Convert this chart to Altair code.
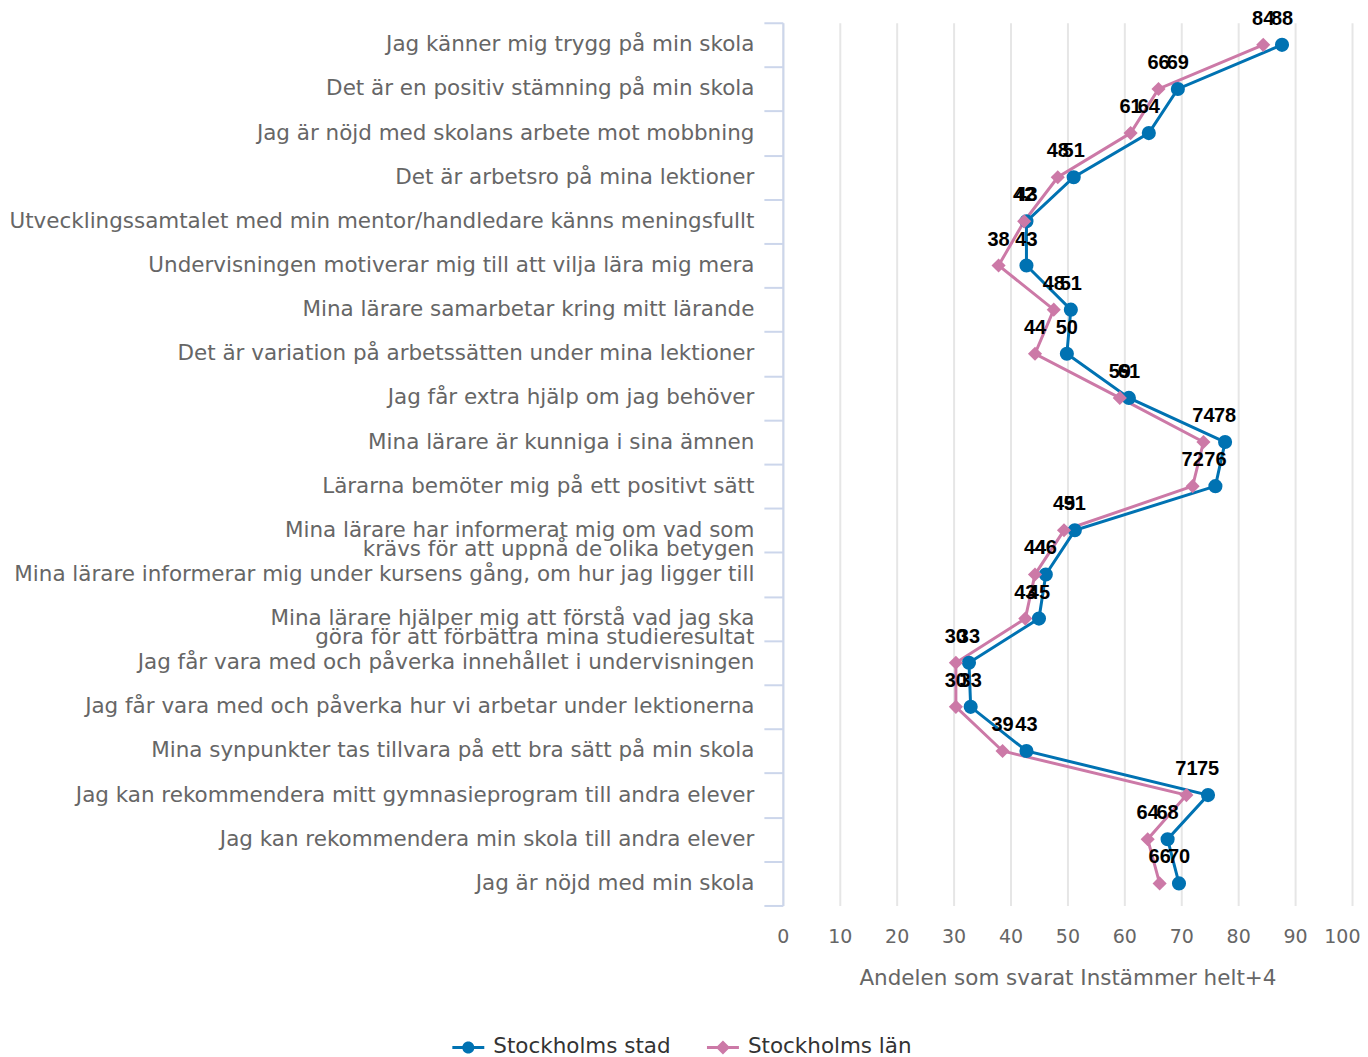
import altair as alt
import pandas as pd

questions = [
    "Jag känner mig trygg på min skola",
    "Det är en positiv stämning på min skola",
    "Jag är nöjd med skolans arbete mot mobbning",
    "Det är arbetsro på mina lektioner",
    "Utvecklingssamtalet med min mentor/handledare känns meningsfullt",
    "Undervisningen motiverar mig till att vilja lära mig mera",
    "Mina lärare samarbetar kring mitt lärande",
    "Det är variation på arbetssätten under mina lektioner",
    "Jag får extra hjälp om jag behöver",
    "Mina lärare är kunniga i sina ämnen",
    "Lärarna bemöter mig på ett positivt sätt",
    "Mina lärare har informerat mig om vad som\nkrävs för att uppnå de olika betygen",
    "Mina lärare informerar mig under kursens gång, om hur jag ligger till",
    "Mina lärare hjälper mig att förstå vad jag ska\ngöra för att förbättra mina studieresultat",
    "Jag får vara med och påverka innehållet i undervisningen",
    "Jag får vara med och påverka hur vi arbetar under lektionerna",
    "Mina synpunkter tas tillvara på ett bra sätt på min skola",
    "Jag kan rekommendera mitt gymnasieprogram till andra elever",
    "Jag kan rekommendera min skola till andra elever",
    "Jag är nöjd med min skola",
]
stad = [87.7, 69.4, 64.3, 51.1, 42.8, 42.8, 50.6, 49.9, 60.8, 77.7,
        76.0, 51.3, 46.2, 45.0, 32.7, 33.0, 42.8, 74.7, 67.6, 69.6]
lan = [84.4, 66.0, 61.1, 48.3, 42.4, 37.9, 47.6, 44.3, 59.2, 73.9,
       72.0, 49.4, 44.3, 42.6, 30.4, 30.4, 38.6, 70.9, 64.1, 66.2]
series = ["Stockholms stad", "Stockholms län"]
colors = ["#0072B2", "#CC79A7"]
shapes = ["circle", "diamond"]
x_ticks = [0, 10, 20, 30, 40, 50, 60, 70, 80, 90, 100]

rows = []
for name, vals in zip(series, [stad, lan]):
    for i, (q, v) in enumerate(zip(questions, vals)):
        rows.append({"fraga": q, "serie": name, "varde": v, "ordning": i})
df = pd.DataFrame(rows)

FONT = "DejaVu Sans"

# legend symbols: a short line with a marker on it
bar = "M-1,-0.09L1,-0.09L1,0.09L-1,0.09Z"
legend_shapes = [
    bar + "M0.38,0A0.38,0.38,0,1,1,-0.38,0A0.38,0.38,0,1,1,0.38,0Z",
    bar + "M0,-0.44L0.44,0L0,0.44L-0.44,0Z",
]

y_enc = alt.Y(
    "fraga:N",
    sort=questions,
    scale=alt.Scale(type="band", paddingInner=0, paddingOuter=0),
    axis=alt.Axis(
        title=None,
        labelExpr="split(datum.label, '\\n')",
        labelLineHeight=19,
        labelFontSize=21.5,
        labelFont=FONT,
        labelColor="#666666",
        labelPadding=10,
        labelLimit=1000,
        tickBand="extent",
        tickSize=19,
        tickWidth=2,
        tickColor="#ccd6eb",
        domainColor="#ccd6eb",
        domainWidth=2,
        grid=False,
    ),
)
x_enc = alt.X(
    "varde:Q",
    scale=alt.Scale(domain=[0, 100], nice=False),
    axis=alt.Axis(
        title="Andelen som svarat Instämmer helt+4",
        titleFont=FONT,
        titleFontSize=21.5,
        titleFontWeight="normal",
        titleColor="#666666",
        titlePadding=21,
        values=x_ticks,
        labelFont=FONT,
        labelFontSize=19,
        labelColor="#666666",
        labelPadding=22,
        labelFlush=False,
        labelAlign={"condition": {"test": "datum.value == 100", "value": "right"}, "value": "center"},
        labelOffset={"condition": {"test": "datum.value == 100", "value": 8}, "value": 0},
        domain=False,
        ticks=False,
        grid=True,
        gridColor="#e6e6e6",
        gridWidth=2,
    ),
)

base = alt.Chart(df)
line = base.mark_line(strokeWidth=3).encode(
    x=x_enc,
    y=y_enc,
    stroke=alt.Stroke("serie:N", sort=series, scale=alt.Scale(domain=series, range=colors), legend=None),
    order="ordning:Q",
    detail="serie:N",
)
pts = base.mark_point(filled=True, size=200, opacity=1).encode(
    x="varde:Q",
    y=alt.Y("fraga:N", sort=questions),
    color=alt.Color("serie:N", sort=series, scale=alt.Scale(domain=series, range=colors), legend=None),
    shape=alt.Shape("serie:N", sort=series, scale=alt.Scale(domain=series, range=shapes), legend=None),
)
labels = base.mark_text(
    dy=-26, fontSize=20, fontWeight="bold", color="#000000", font="Liberation Sans"
).encode(
    x="varde:Q",
    y=alt.Y("fraga:N", sort=questions),
    text=alt.Text("varde:Q", format=".0f"),
)

legend_props = dict(
    title=None,
    orient="none",
    direction="horizontal",
    legendX=-331,
    legendY=1010,
    padding=0,
    labelFont=FONT,
    labelFontSize=21.5,
    labelColor="#333333",
    labelLimit=400,
    labelOffset=9,
    columnPadding=36,
    symbolSize=1024,
    symbolStrokeWidth=0,
    symbolOpacity=1,
)
legend_layer = base.transform_filter("false").mark_point(filled=True, opacity=1).encode(
    x="varde:Q",
    y=alt.Y("fraga:N", sort=questions),
    color=alt.Color("serie:N", sort=series, scale=alt.Scale(domain=series, range=colors),
                    legend=alt.Legend(**legend_props)),
    shape=alt.Shape("serie:N", sort=series, scale=alt.Scale(domain=series, range=legend_shapes),
                    legend=alt.Legend(**legend_props)),
)

chart = (
    alt.layer(line, pts, labels, legend_layer)
    .resolve_scale(shape="independent", color="independent")
    .properties(width=570, height=884, padding={"left": 0, "top": 0, "right": 0, "bottom": 5})
    .configure(font=FONT)
    .configure_view(stroke=None)
)

chart.save("out.html", embed_options={"renderer": "svg", "actions": False})
